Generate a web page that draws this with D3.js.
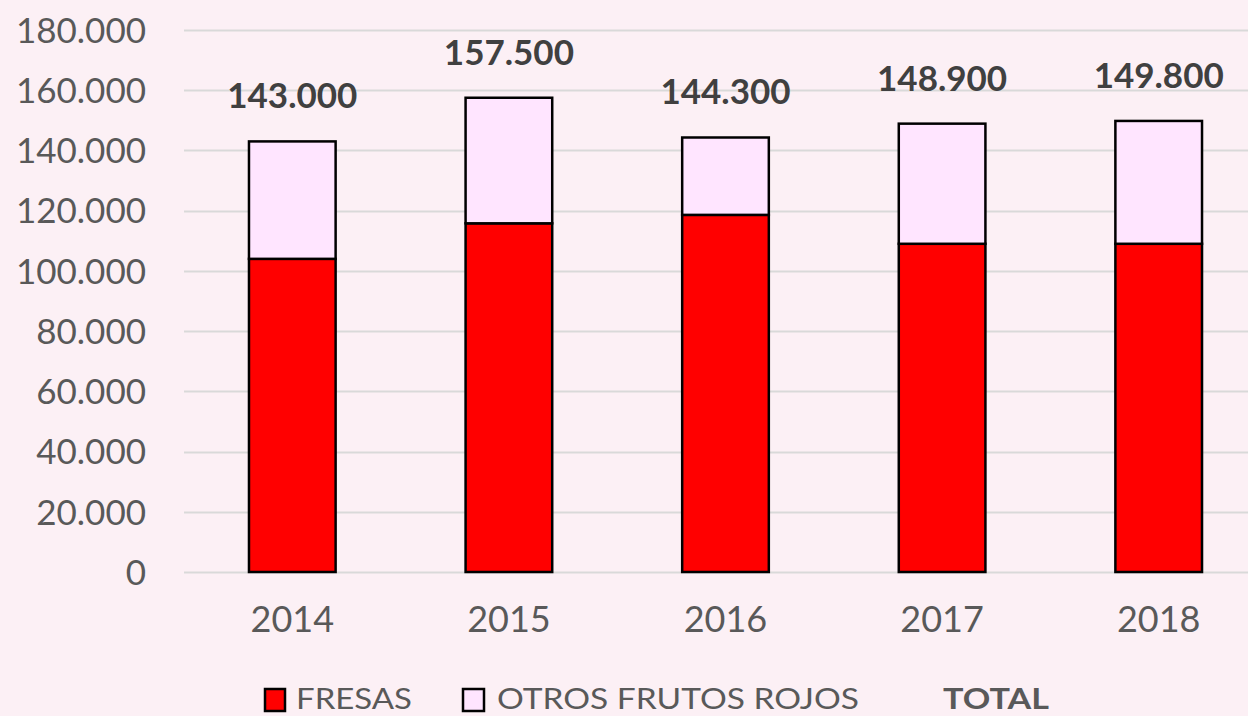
<!DOCTYPE html>
<html><head><meta charset="utf-8">
<script src="https://cdn.jsdelivr.net/npm/d3@7"></script>
<style>html,body{margin:0;padding:0;background:#FCF0F5;overflow:hidden}</style>
</head><body>
<svg id="c" width="1248" height="716"></svg>
<script>
const years = ["2014","2015","2016","2017","2018"];
const fresas = [104000, 115800, 118600, 109000, 109000];
const totals = [143000, 157500, 144300, 148900, 149800];
const yTicks = [0,20000,40000,60000,80000,100000,120000,140000,160000,180000];
const seriesNames = ["FRESAS","OTROS FRUTOS ROJOS","TOTAL"];

const svg = d3.select("#c");
const W=1248,H=716;
svg.append("rect").attr("width",W).attr("height",H).attr("fill","#FCF0F5");
const font = "Lato, 'Open Sans', sans-serif";
const x = d3.scaleBand().domain(years).range([184,1267]).paddingInner(0.6).paddingOuter(0.3);
const y = d3.scaleLinear().domain([0,180000]).range([572,30]);
const fmt = v => d3.format(",")(v).replace(/,/g,".");

// gridlines
svg.append("g").selectAll("line").data(yTicks).join("line")
  .attr("x1",184).attr("x2",1267)
  .attr("y1",d=>Math.round(y(d))+0.5).attr("y2",d=>Math.round(y(d))+0.5)
  .attr("stroke","#D9D9D9").attr("stroke-width",2);

// y axis labels
const yAxis = d3.axisLeft(y).tickValues(yTicks).tickFormat(fmt).tickSize(0).tickPadding(0);
const ga = svg.append("g").attr("transform","translate(146,0)").call(yAxis);
ga.select(".domain").remove();
ga.selectAll("text").attr("font-family",font).attr("font-size",35).attr("fill","#595959").attr("dy","0.35em");

// x axis labels
const xAxis = d3.axisBottom(x).tickSize(0).tickPadding(0);
const gx = svg.append("g").attr("transform","translate(0,606)").call(xAxis);
gx.select(".domain").remove();
gx.selectAll("text").attr("font-family",font).attr("font-size",36).attr("fill","#595959").attr("dy","0.71em");

// bars
const stack = years.map((yr,i)=>({yr, f:fresas[i], t:totals[i]}));
const g = svg.append("g");
g.selectAll("rect.f").data(stack).join("rect").attr("class","f")
  .attr("x",d=>x(d.yr)).attr("width",x.bandwidth())
  .attr("y",d=>y(d.f)).attr("height",d=>y(0)-y(d.f))
  .attr("fill","#FF0000").attr("stroke","#000").attr("stroke-width",2.5);
g.selectAll("rect.o").data(stack).join("rect").attr("class","o")
  .attr("x",d=>x(d.yr)).attr("width",x.bandwidth())
  .attr("y",d=>y(d.t)).attr("height",d=>y(d.f)-y(d.t))
  .attr("fill","#FFE5FF").attr("stroke","#000").attr("stroke-width",2.5);

// total labels
g.selectAll("text.t").data(stack).join("text").attr("class","t")
  .attr("x",d=>x(d.yr)+x.bandwidth()/2).attr("y",d=>y(d.t)-33)
  .attr("text-anchor","middle").attr("font-family",font).attr("font-weight","bold")
  .attr("font-size",35).attr("fill","#404040").text(d=>fmt(d.t));

// legend
const lg = svg.append("g").attr("font-family",font).attr("font-size",29).attr("fill","#595959");
lg.append("rect").attr("x",265).attr("y",689).attr("width",20).attr("height",22).attr("fill","#FF0000").attr("stroke","#000").attr("stroke-width",2.5);
lg.append("text").attr("x",296).attr("y",709).attr("textLength",116).attr("lengthAdjust","spacingAndGlyphs").text(seriesNames[0]);
lg.append("rect").attr("x",463).attr("y",689).attr("width",21).attr("height",22).attr("fill","#FFE5FF").attr("stroke","#000").attr("stroke-width",2.5);
lg.append("text").attr("x",497).attr("y",709).attr("textLength",362).attr("lengthAdjust","spacingAndGlyphs").text(seriesNames[1]);
lg.append("text").attr("x",943).attr("y",709).attr("font-weight","bold").attr("textLength",106).attr("lengthAdjust","spacingAndGlyphs").text(seriesNames[2]);
</script>
</body></html>
